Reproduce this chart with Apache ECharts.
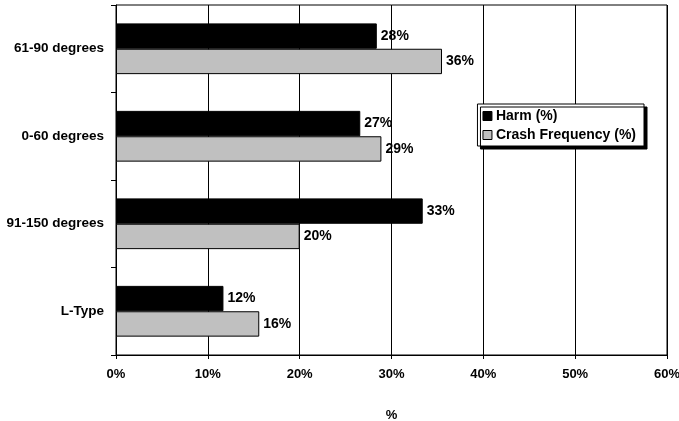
<!DOCTYPE html>
<html>
<head>
<meta charset="utf-8">
<script src="https://cdn.jsdelivr.net/npm/echarts@6/dist/echarts.min.js"></script>
<style>
html,body{margin:0;padding:0;background:#fff;}
#chart{width:679px;height:421px;}
</style>
</head>
<body>
<div id="chart"></div>
<script>
// Categories listed bottom to top
var categories = ['L-Type', '91-150 degrees', '0-60 degrees', '61-90 degrees'];
var harm = [11.7, 33.4, 26.6, 28.4];
var crashFrequency = [15.6, 20.0, 28.9, 35.5];
var xTickLabels = ['0%', '10%', '20%', '30%', '40%', '50%', '60%'];
var seriesNames = ['Harm (%)', 'Crash Frequency (%)'];
var axisTitle = '%';

var font = 'Liberation Sans, Arial, sans-serif';
var chart = echarts.init(document.getElementById('chart'), null, {renderer: 'canvas'});

var labelStyle = {
  show: true, position: 'right', distance: 4,
  fontFamily: font, fontWeight: 'bold', fontSize: 14, color: '#000',
  formatter: function (p) { return Math.round(p.value) + '%'; }
};

chart.setOption({
  animation: false,
  backgroundColor: '#fff',
  grid: {left: 116, right: 12, top: 5, bottom: 66, show: true, borderColor: '#000', borderWidth: 1,
         outerBoundsMode: 'none', containLabel: false},
  legend: {
    right: 35, top: 104, orient: 'vertical', itemGap: 5, icon: 'rect',
    itemWidth: 9, itemHeight: 9, padding: [5, 8, 4, 5],
    backgroundColor: '#fff', borderColor: '#000', borderWidth: 1,
    shadowColor: '#000', shadowOffsetX: 3, shadowOffsetY: 3, shadowBlur: 0,
    textStyle: {fontFamily: font, fontWeight: 'bold', fontSize: 14, color: '#000', padding: [0, 0, 0, -1]},
    data: [
      {name: seriesNames[0], itemStyle: {color: '#000', borderColor: '#000', borderWidth: 1}},
      {name: seriesNames[1], itemStyle: {color: '#c0c0c0', borderColor: '#000', borderWidth: 1}}
    ]
  },
  xAxis: {
    type: 'value', min: 0, max: 60, interval: 10,
    name: axisTitle, nameLocation: 'middle', nameGap: 54,
    nameTextStyle: {fontFamily: font, fontWeight: 'bold', fontSize: 13, color: '#000'},
    axisLine: {show: true, lineStyle: {color: '#000', width: 1}},
    axisTick: {show: true, length: 4, lineStyle: {color: '#000'}},
    splitLine: {show: true, lineStyle: {color: '#000', width: 1}},
    axisLabel: {
      fontFamily: font, fontWeight: 'bold', fontSize: 13, color: '#000', margin: 13,
      formatter: function (v) { return xTickLabels[Math.round(v / 10)]; }
    }
  },
  yAxis: {
    type: 'category', data: categories,
    axisLine: {show: true, lineStyle: {color: '#000', width: 1}},
    axisTick: {show: true, length: 5, lineStyle: {color: '#000'}},
    axisLabel: {fontFamily: font, fontWeight: 'bold', fontSize: 13.5, color: '#000', margin: 12}
  },
  series: [
    {
      name: seriesNames[0], type: 'bar', data: harm,
      barGap: '0%', barCategoryGap: '42%',
      itemStyle: {color: '#000', borderColor: '#000', borderWidth: 1},
      label: labelStyle
    },
    {
      name: seriesNames[1], type: 'bar', data: crashFrequency,
      barGap: '0%', barCategoryGap: '42%',
      itemStyle: {color: '#c0c0c0', borderColor: '#000', borderWidth: 1},
      label: labelStyle
    }
  ]
});
</script>
</body>
</html>
